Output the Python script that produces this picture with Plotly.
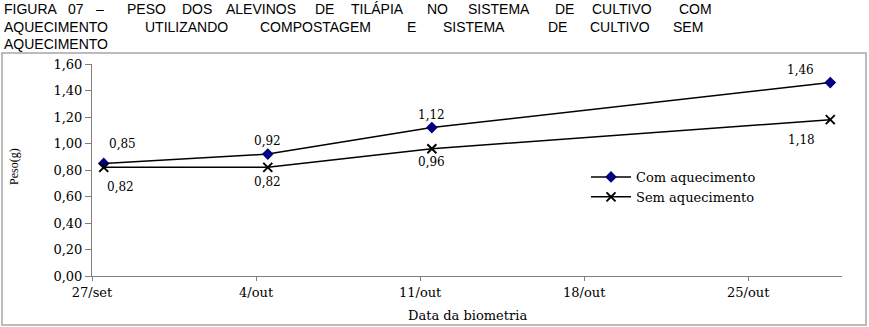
import plotly.graph_objects as go

# ---- data ----
dates = ["2008-09-27", "2008-10-04", "2008-10-11", "2008-10-28"]
com_aquecimento = [0.85, 0.92, 1.12, 1.46]
sem_aquecimento = [0.82, 0.82, 0.96, 1.18]
tick_dates = ["2008-09-27", "2008-10-04", "2008-10-11", "2008-10-18", "2008-10-25"]
tick_labels = ["27/set", "4/out", "11/out", "18/out", "25/out"]
y_ticks = [0.0, 0.2, 0.4, 0.6, 0.8, 1.0, 1.2, 1.4, 1.6]

title_lines = [
    ["FIGURA", "07", "–", "PESO", "DOS", "ALEVINOS", "DE", "TILÁPIA", "NO", "SISTEMA", "DE", "CULTIVO", "COM"],
    ["AQUECIMENTO", "UTILIZANDO", "COMPOSTAGEM", "E", "SISTEMA", "DE", "CULTIVO", "SEM"],
    ["AQUECIMENTO"],
]

# ---- layout geometry (pixels) ----
W, H = 869, 327
PL, PR, PT, PB = 92, 842, 64, 276  # plot area edges


def px_x(x):
    return (x - PL) / (PR - PL)


def px_y(y):
    return (PB - y) / (PB - PT)


title_word_x = [
    [2, 66, 94, 125, 180, 224, 313, 349, 425, 466, 553, 590, 677],
    [2, 143, 258, 405, 441, 546, 588, 671],
    [2],
]
title_line_y = [9, 26.5, 44]

serif = "DejaVu Serif"
fig = go.Figure()

fig.add_trace(go.Scatter(
    x=dates, y=com_aquecimento, name="Com aquecimento",
    mode="lines+markers", xperiod=86400000, xperiodalignment="middle",
    line=dict(color="black", width=1.5),
    marker=dict(symbol="diamond", size=9, color="#000080"),
))
fig.add_trace(go.Scatter(
    x=dates, y=sem_aquecimento, name="Sem aquecimento",
    mode="lines+markers", xperiod=86400000, xperiodalignment="middle",
    line=dict(color="black", width=1.5),
    marker=dict(symbol="x-thin", size=9, color="black", line=dict(color="black", width=2)),
))

# data labels (pixel offsets per point)
com_off = [(19, -19), (0, -13), (0, -13), (-30, -13)]
sem_off = [(17, 20), (0, 15), (0, 13), (-29, 20)]
annotations = []
for series, offs in ((com_aquecimento, com_off), (sem_aquecimento, sem_off)):
    for d, v, (dx, dy) in zip(dates, series, offs):
        annotations.append(dict(
            x=d + " 12:00", y=v, xref="x", yref="y", text=f"{v:.2f}".replace(".", ","),
            showarrow=False, xshift=dx, yshift=-dy,
            font=dict(family=serif, size=12, color="black"),
        ))

for words, xs, ly in zip(title_lines, title_word_x, title_line_y):
    for w, x in zip(words, xs):
        annotations.append(dict(
            x=px_x(x), y=px_y(ly), xref="paper", yref="paper", text=w,
            showarrow=False, xanchor="left", yanchor="middle",
            font=dict(family="Liberation Sans", size=14, color="black"),
        ))

annotations.append(dict(
    x=0.5, y=px_y(315), xref="paper", yref="paper", text="Data da biometria",
    showarrow=False, xanchor="center", yanchor="middle",
    font=dict(family=serif, size=13, color="black"),
))
annotations.append(dict(
    x=px_x(14), y=px_y(167), xref="paper", yref="paper", text="Peso(g)",
    showarrow=False, xanchor="center", yanchor="middle", textangle=-90,
    font=dict(family="Liberation Serif", size=12, color="black"),
))

fig.update_layout(
    width=W, height=H,
    margin=dict(l=PL, r=W - PR, t=PT, b=H - PB, pad=0),
    paper_bgcolor="white", plot_bgcolor="white",
    separators=",.",
    showlegend=True,
    legend=dict(
        x=px_x(586), y=px_y(162), xanchor="left", yanchor="top",
        bgcolor="rgba(0,0,0,0)", font=dict(family=serif, size=13, color="black"),
        itemwidth=40, tracegroupgap=0,
    ),
    annotations=annotations,
    shapes=[dict(
        type="rect", xref="paper", yref="paper",
        x0=px_x(2), x1=px_x(866), y0=px_y(325), y1=px_y(53),
        line=dict(color="#a6a6a6", width=1.5), fillcolor="rgba(0,0,0,0)", layer="below",
    )],
)

fig.update_xaxes(
    type="date", range=["2008-09-27", "2008-10-29"],
    tickmode="array", tickvals=tick_dates, ticktext=tick_labels,
    showgrid=False, zeroline=False, showline=True, linecolor="#808080", linewidth=1,
    ticks="outside", ticklen=4, tickcolor="#808080",
    tickfont=dict(family=serif, size=13, color="black"),
)
fig.update_yaxes(
    range=[0, 1.6], tickmode="array", tickvals=y_ticks, tickformat=".2f",
    showgrid=False, zeroline=False, showline=True, linecolor="#808080", linewidth=1,
    ticks="outside", ticklen=6, tickcolor="#808080",
    tickfont=dict(family=serif, size=13, color="black"),
)

fig.write_html(
    "out.html",
    config={"displayModeBar": False},
    post_script="document.body.style.margin='0';document.body.style.overflow='hidden';",
)
